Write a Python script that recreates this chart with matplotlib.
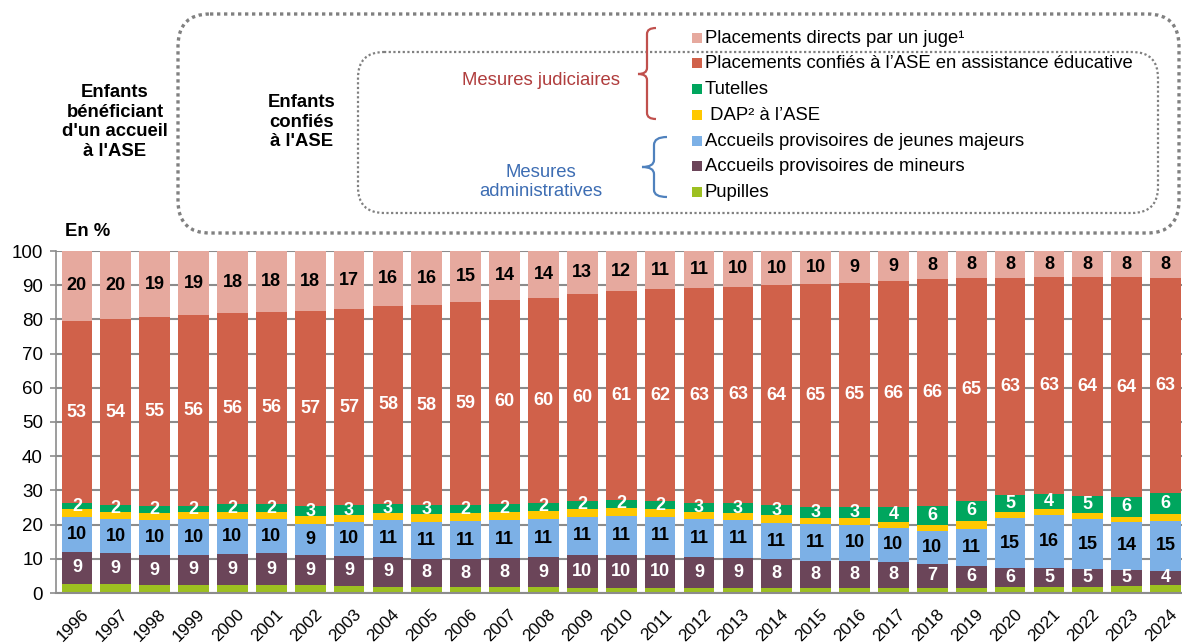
import matplotlib
matplotlib.use('Agg')
import matplotlib.pyplot as plt
from matplotlib.patches import FancyBboxPatch, Rectangle, PathPatch
from matplotlib.path import Path
import matplotlib.transforms as mtransforms
import numpy as np

# ---------------- data ----------------
years = [str(y) for y in range(1996, 2025)]
pupilles = [2.7, 2.5, 2.4, 2.4, 2.3, 2.2, 2.2, 2.1, 1.9, 1.8, 1.7, 1.7, 1.7, 1.5,
            1.5, 1.5, 1.4, 1.5, 1.5, 1.5, 1.5, 1.6, 1.6, 1.6, 1.7, 1.8, 1.9, 2.1, 2.4]
mineurs = [9.4, 9.2, 8.6, 8.8, 9.0, 9.4, 8.9, 8.8, 8.6, 8.1, 8.1, 8.4, 8.8, 9.6,
           9.7, 9.6, 9.0, 8.8, 8.3, 7.8, 8.0, 7.6, 6.8, 6.2, 5.6, 5.4, 5.0, 4.6, 4.1]
jeunes_majeurs = [10.2, 9.9, 10.2, 10.3, 10.2, 9.9, 9.2, 10.0, 10.7, 11.0, 11.2, 11.2, 11.1, 11.2,
                  11.4, 11.2, 11.2, 11.1, 10.8, 10.9, 10.3, 9.7, 9.7, 11.0, 14.6, 15.6, 14.7, 14.2, 14.6]
dap = [2.3, 2.2, 2.3, 2.1, 2.2, 2.1, 2.2, 2.0, 2.2, 2.2, 2.3, 2.3, 2.5, 2.3,
       2.4, 2.3, 2.2, 2.1, 2.2, 1.8, 2.0, 1.9, 1.7, 2.2, 1.9, 1.9, 1.8, 1.3, 2.0]
tutelles = [1.6, 1.8, 1.8, 1.9, 2.2, 2.3, 2.9, 2.7, 2.7, 2.6, 2.3, 2.3, 2.1, 2.3,
            2.2, 2.2, 2.6, 2.7, 2.8, 3.2, 3.4, 4.4, 5.6, 6.0, 5.0, 4.2, 5.0, 5.9, 6.1]
assistance = [53.4, 54.4, 55.3, 55.7, 55.9, 56.4, 57.0, 57.4, 57.8, 58.4, 59.4, 59.9, 60.0, 60.4,
              61.0, 62.0, 62.9, 63.4, 64.4, 65.1, 65.4, 66.0, 66.4, 65.2, 63.4, 63.4, 63.9, 64.2, 63.0]
directs = [20.4, 20.0, 19.4, 18.8, 18.2, 17.7, 17.6, 17.0, 16.1, 15.9, 15.0, 14.2, 13.8, 12.7,
           11.8, 11.2, 10.7, 10.4, 10.0, 9.7, 9.4, 8.8, 8.2, 7.8, 7.8, 7.7, 7.7, 7.7, 7.8]

series_names = ["Pupilles", "Accueils provisoires de mineurs", "Accueils provisoires de jeunes majeurs",
                " DAP\u00b2 \u00e0 l\u2019ASE", "Tutelles",
                "Placements confi\u00e9s \u00e0 l\u2019ASE en assistance \u00e9ducative",
                "Placements directs par un juge\u00b9"]
series_values = [pupilles, mineurs, jeunes_majeurs, dap, tutelles, assistance, directs]
series_colors = ["#9DC021", "#6B4559", "#7CB0E6", "#FFC800", "#00A65E", "#D0614A", "#E6A99E"]
label_colors = [None, "white", "black", None, "white", "white", "black"]

# ---------------- figure ----------------
plt.rcParams['font.family'] = ['Liberation Sans', 'DejaVu Sans']
W, H = 1182, 644
fig = plt.figure(figsize=(W / 100, H / 100), dpi=100)
ax = fig.add_axes([55.5 / W, (H - 593) / H, (1187 - 55.5) / W, 342 / H])

x = np.arange(len(years))
bottom = np.zeros(len(years))
for vals, col, lcol in zip(series_values, series_colors, label_colors):
    v = np.array(vals)
    ax.bar(x, v, bottom=bottom, width=0.79, color=col, edgecolor='none', zorder=2)
    if lcol is not None:
        for i in range(len(x)):
            ax.text(x[i], bottom[i] + v[i] / 2, str(int(np.floor(v[i] + 0.5))),
                    ha='center', va='center', color=lcol, fontsize=13,
                    fontweight='bold', zorder=3)
    bottom += v

ax.set_xlim(-0.55, len(years) - 0.45)
ax.set_ylim(0, 100)
ax.set_yticks(range(0, 101, 10))
ax.yaxis.grid(True, color='#8C8C8C', linewidth=1.5, zorder=0)
ax.set_axisbelow(True)
for s in ['top', 'right']:
    ax.spines[s].set_visible(False)
ax.spines['left'].set_color('#8C8C8C')
ax.spines['left'].set_linewidth(1.2)
ax.spines['bottom'].set_color('#8C8C8C')
ax.spines['bottom'].set_linewidth(1.5)
ax.tick_params(axis='y', labelsize=13.5, length=4, color='#8C8C8C', width=1.2, pad=5)
ax.tick_params(axis='x', length=0, pad=10)
ax.set_xticks(x)
ax.set_xticklabels(years, rotation=45, ha='right', va='top', rotation_mode='anchor', fontsize=12.3)
offset = mtransforms.ScaledTranslation(4 / 100, 0, fig.dpi_scale_trans)
for lab in ax.get_xticklabels():
    lab.set_transform(lab.get_transform() + offset)

# ---------------- overlay (legend area) ----------------
ov = fig.add_axes([0, 0, 1, 1], zorder=5)
ov.set_xlim(0, W)
ov.set_ylim(H, 0)
ov.axis('off')
ov.patch.set_alpha(0)

outer = FancyBboxPatch((178, 14), 1179 - 178, 233 - 14,
                       boxstyle="round,pad=0,rounding_size=32",
                       fill=False, edgecolor='#808080', linewidth=2.4,
                       linestyle=(0, (1, 1.1)))
inner = FancyBboxPatch((358, 52), 1158 - 358, 213 - 52,
                       boxstyle="round,pad=0,rounding_size=26",
                       fill=False, edgecolor='#808080', linewidth=1.6,
                       linestyle=(0, (1, 1.1)))
ov.add_patch(outer)
ov.add_patch(inner)

fs = 13.3
ov.text(115, 122, "Enfants\nb\u00e9n\u00e9ficiant\nd'un accueil\n\u00e0 l'ASE", ha='center', va='center',
        fontsize=fs, fontweight='bold', linespacing=1.2)
ov.text(302, 122, "Enfants\nconfi\u00e9s\n\u00e0 l'ASE", ha='center', va='center',
        fontsize=fs, fontweight='bold', linespacing=1.2)
ov.text(541, 80, "Mesures judiciaires", ha='center', va='center', fontsize=fs, color='#B03D3D')
ov.text(541, 182, "Mesures\nadministratives", ha='center', va='center', fontsize=fs,
        color='#3D6DB3', linespacing=1.1)
ov.text(65, 231, "En %", ha='left', va='center', fontsize=fs, fontweight='bold')

# braces
red_brace = Path([(656, 28), (647, 28), (647, 34), (647, 68), (647, 74), (638, 74),
                  (647, 74), (647, 80), (647, 113), (647, 119), (656, 119)],
                 [Path.MOVETO, Path.CURVE3, Path.CURVE3, Path.LINETO, Path.CURVE3, Path.CURVE3,
                  Path.CURVE3, Path.CURVE3, Path.LINETO, Path.CURVE3, Path.CURVE3])
blue_brace = Path([(667, 137), (654, 137), (654, 145), (654, 160), (654, 167), (642, 167),
                   (654, 167), (654, 174), (654, 190), (654, 197), (667, 197)],
                  [Path.MOVETO, Path.CURVE3, Path.CURVE3, Path.LINETO, Path.CURVE3, Path.CURVE3,
                   Path.CURVE3, Path.CURVE3, Path.LINETO, Path.CURVE3, Path.CURVE3])
ov.add_patch(PathPatch(red_brace, fill=False, edgecolor='#C0504D', linewidth=1.6))
ov.add_patch(PathPatch(blue_brace, fill=False, edgecolor='#4F81BD', linewidth=1.6))

# legend entries (top to bottom)
row_y = [38, 63, 89, 115, 141, 166, 192]
for k, y in enumerate(row_y):
    idx = len(series_names) - 1 - k
    ov.add_patch(Rectangle((692, y - 5), 10, 10, facecolor=series_colors[idx], edgecolor='none'))
    ov.text(705, y, series_names[idx], ha='left', va='center', fontsize=fs)

fig.savefig("out.png", dpi=100)
